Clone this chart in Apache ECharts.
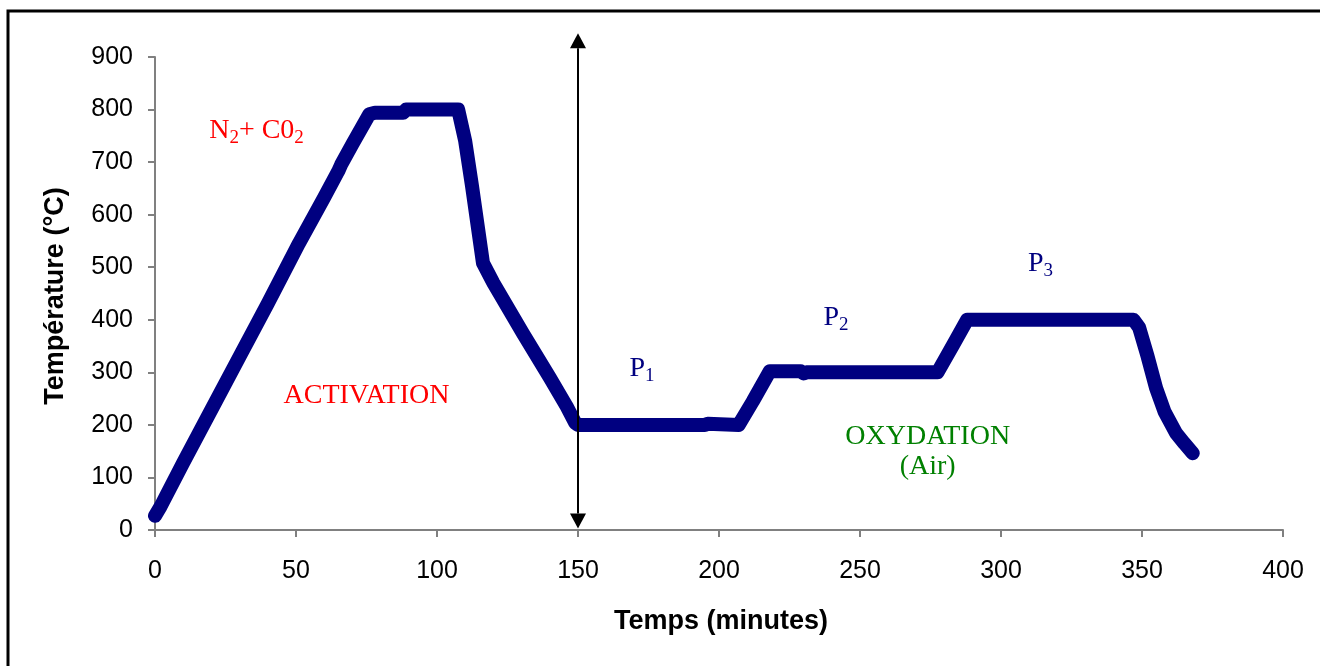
<!DOCTYPE html>
<html>
<head>
<meta charset="utf-8">
<script src="https://cdn.jsdelivr.net/npm/echarts@6/dist/echarts.min.js"></script>
<style>
html,body{margin:0;padding:0;background:#fff;}
#chart{width:1320px;height:666px;}
</style>
</head>
<body>
<div id="chart"></div>
<script>
// Time (minutes)
const timeMin = [0, 2, 10, 20, 30, 40, 51, 60, 65, 66, 70, 76, 78, 88, 89, 106, 107.5, 110, 112.4, 116.3, 120, 130.5, 140, 146, 149, 150, 195, 196, 207, 212, 218, 229, 230, 231, 277.5, 283, 288, 347, 349, 352, 355, 358, 362, 365, 368];
// Temperature (°C)
const tempC   = [27, 45, 128, 229, 330, 431, 545, 633, 683, 695, 734, 791, 794, 794, 800, 800, 800, 740, 655, 508, 470, 374, 290, 235, 204, 200, 200, 202, 200, 245, 302, 302, 298, 300, 300, 352, 400, 400, 385, 330, 270, 225, 185, 165, 146];

const xTicks = {min: 0, max: 400, interval: 50};
const yTicks = {min: 0, max: 900, interval: 100};

// Arrow marking the switch from activation to oxidation
const arrowTime = 150;
const arrowTop = 945;
const arrowBottom = 3;

// Annotation labels [time, temperature]
const labelActivation = {text: 'ACTIVATION', at: [75, 255]};
const labelGas = {at: [36, 760]};
const labelP1 = {at: [172.7, 307]};
const labelP2 = {at: [241.5, 405]};
const labelP3 = {at: [314, 507]};
const labelOxy = {at: [274, 150]};

(function () {
const seriesData = timeMin.map((t, i) => [t, tempC[i]]);

const chart = echarts.init(document.getElementById('chart'));
const axisFont = {fontFamily: 'Liberation Sans, Arial, sans-serif', fontSize: 25, color: '#000'};
chart.setOption({
  animation: false,
  backgroundColor: '#fff',
  grid: {left: 155, right: 37, top: 57, bottom: 136},
  xAxis: {
    type: 'value', min: xTicks.min, max: xTicks.max, interval: xTicks.interval,
    axisLine: {show: true, lineStyle: {color: '#808080', width: 2}},
    axisTick: {show: true, length: 7, inside: false, lineStyle: {color: '#808080', width: 2}},
    splitLine: {show: false},
    axisLabel: Object.assign({margin: 29}, axisFont)
  },
  yAxis: {
    type: 'value', min: yTicks.min, max: yTicks.max, interval: yTicks.interval,
    axisLine: {show: true, lineStyle: {color: '#808080', width: 2}},
    axisTick: {show: true, length: 7, inside: false, lineStyle: {color: '#808080', width: 2}},
    splitLine: {show: false},
    axisLabel: Object.assign({margin: 22}, axisFont)
  },
  series: [{
    type: 'line',
    data: seriesData,
    showSymbol: false,
    smooth: false,
    lineStyle: {color: '#000080', width: 14, cap: 'round', join: 'round'},
    z: 3
  }]
});

function px(p) { return chart.convertToPixel({gridIndex: 0}, p); }
const serif = 'Liberation Serif, Times New Roman, serif';
const subRich = function (color) {
  return {
    m: {fontFamily: serif, fontSize: 28, fill: color, color: color},
    s: {fontFamily: serif, fontSize: 19, fill: color, color: color, padding: [15, 0, 0, 0]}
  };
};

const aTop = px([arrowTime, arrowTop]);
const aBot = px([arrowTime, arrowBottom]);
const head = 15, half = 8;
const graphics = [
  {type: 'rect', shape: {x: 8, y: 11, width: 1400, height: 700}, style: {fill: 'none', stroke: '#000', lineWidth: 3}, z: 0, silent: true},
  {type: 'line', shape: {x1: aTop[0], y1: aTop[1] + head, x2: aBot[0], y2: aBot[1] - head}, style: {stroke: '#000', lineWidth: 2}, z: 10},
  {type: 'polygon', shape: {points: [[aTop[0], aTop[1]], [aTop[0] - half, aTop[1] + head], [aTop[0] + half, aTop[1] + head]]}, style: {fill: '#000'}, z: 10},
  {type: 'polygon', shape: {points: [[aBot[0], aBot[1]], [aBot[0] - half, aBot[1] - head], [aBot[0] + half, aBot[1] - head]]}, style: {fill: '#000'}, z: 10}
];

function addText(at, text, color, rich, extra) {
  const p = px(at);
  const g = {type: 'text', x: p[0], y: p[1], z: 10, style: Object.assign({
    text: text, fill: color, font: '28px ' + serif, align: 'center', verticalAlign: 'middle'
  }, rich ? {rich: rich} : {}, extra || {})};
  graphics.push(g);
}
addText(labelActivation.at, labelActivation.text, '#ff0000');
addText(labelGas.at, '{m|N}{s|2}{m|+ C0}{s|2}', '#ff0000', subRich('#ff0000'));
addText(labelP1.at, '{m|P}{s|1}', '#000080', subRich('#000080'));
addText(labelP2.at, '{m|P}{s|2}', '#000080', subRich('#000080'));
addText(labelP3.at, '{m|P}{s|3}', '#000080', subRich('#000080'));
addText(labelOxy.at, 'OXYDATION\n(Air)', '#008000', null, {lineHeight: 30});

// Axis titles
graphics.push({type: 'text', x: 721, y: 622, z: 10, style: {text: 'Temps (minutes)', fill: '#000', font: 'bold 27px Liberation Sans, Arial, sans-serif', align: 'center', verticalAlign: 'middle'}});
graphics.push({type: 'text', x: 56, y: 296, rotation: Math.PI / 2, z: 10, style: {text: 'Température (°C)', fill: '#000', font: 'bold 27px Liberation Sans, Arial, sans-serif', align: 'center', verticalAlign: 'middle'}});

chart.setOption({graphic: graphics});
})();
</script>
</body>
</html>
